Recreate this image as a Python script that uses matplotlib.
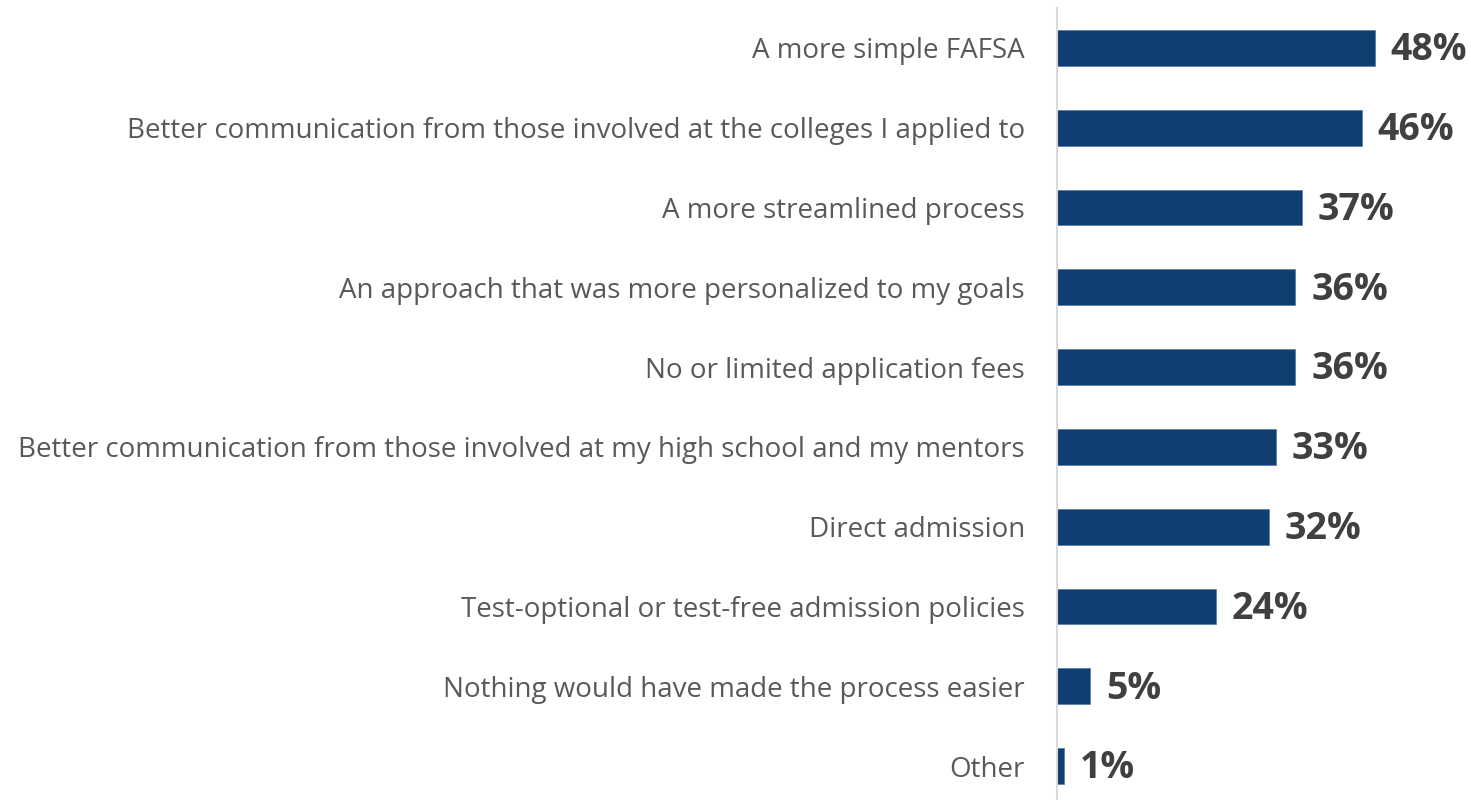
import matplotlib.pyplot as plt

categories = [
    "A more simple FAFSA",
    "Better communication from those involved at the colleges I applied to",
    "A more streamlined process",
    "An approach that was more personalized to my goals",
    "No or limited application fees",
    "Better communication from those involved at my high school and my mentors",
    "Direct admission",
    "Test-optional or test-free admission policies",
    "Nothing would have made the process easier",
    "Other",
]
values = [48, 46, 37, 36, 36, 33, 32, 24, 5, 1]

bar_color = "#0F3F70"
label_color = "#595959"
value_color = "#404040"

plt.rcParams["font.family"] = ["Open Sans", "DejaVu Sans"]

fig = plt.figure(figsize=(14.71, 8), dpi=100)
ax = fig.add_axes([1057 / 1471, -6 / 800, 414 / 1471, 798 / 800])

y = list(range(len(categories)))
ax.barh(y, values, height=0.45, color=bar_color, edgecolor="#5A7FA6", linewidth=0.6)
ax.set_ylim(len(categories) - 0.5, -0.5)
ax.set_xlim(0, 62.5)

# bold percentage labels just right of each bar
for yi, v in zip(y, values):
    ax.text(v + 2.4, yi + 0.03, f"{v}%", va="center", ha="left", fontsize=27,
            fontweight="bold", color=value_color)

ax.set_yticks(y)
ax.set_yticklabels(categories, fontsize=20, color=label_color)
ax.tick_params(axis="y", length=0, pad=23)
ax.set_xticks([])

for side in ["top", "right", "bottom"]:
    ax.spines[side].set_visible(False)
ax.spines["left"].set_color("#D9D9D9")
ax.spines["left"].set_linewidth(1.5)

fig.savefig("out.png", dpi=100)
